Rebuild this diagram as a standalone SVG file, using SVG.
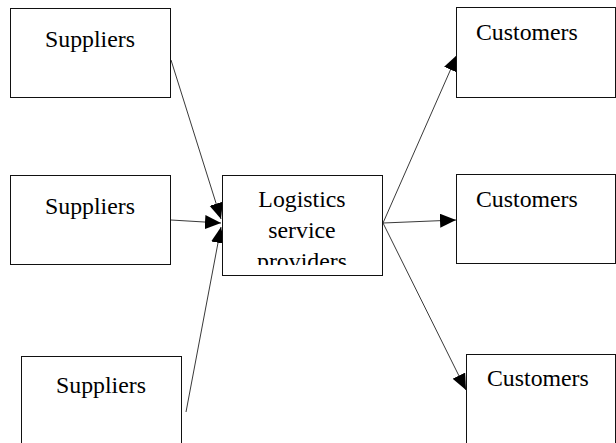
<svg xmlns="http://www.w3.org/2000/svg" width="616" height="443" viewBox="0 0 616 443">
<style>
.box{fill:#fff;stroke:#111;stroke-width:1}
.t{font-family:"Liberation Serif","Times New Roman",serif;font-size:23.8px;fill:#000}
.c{text-anchor:middle}
.ln{stroke:#222;stroke-width:0.9;fill:none}
</style>
<defs>
<marker id="ah" markerUnits="userSpaceOnUse" markerWidth="18" markerHeight="16" refX="16" refY="7" orient="auto">
<path d="M0,0 L16,7 L0,14 z" fill="#000"/>
</marker>
<clipPath id="lclip"><rect x="222" y="175" width="160" height="90"/></clipPath>
</defs>
<g id="connectors">
<line class="ln" x1="171" y1="60" x2="221" y2="219" marker-end="url(#ah)"/>
<line class="ln" x1="171" y1="220" x2="221" y2="223" marker-end="url(#ah)"/>
<line class="ln" x1="186" y1="412" x2="221" y2="227" marker-end="url(#ah)"/>
<line class="ln" x1="383" y1="223" x2="457" y2="55" marker-end="url(#ah)"/>
<line class="ln" x1="383" y1="223" x2="456" y2="220" marker-end="url(#ah)"/>
<line class="ln" x1="383" y1="223" x2="466" y2="390" marker-end="url(#ah)"/>
</g>
<g id="supplier1">
<rect class="box" x="10.5" y="8.5" width="160" height="89"/>
<text class="t c" x="90" y="47">Suppliers</text>
</g>
<g id="supplier2">
<rect class="box" x="10.5" y="175.5" width="160" height="89"/>
<text class="t c" x="90" y="214">Suppliers</text>
</g>
<g id="supplier3">
<rect class="box" x="21.5" y="356.5" width="160" height="100"/>
<text class="t c" x="101" y="393">Suppliers</text>
</g>
<g id="logistics">
<rect class="box" x="222.5" y="175.5" width="160" height="100"/>
<g clip-path="url(#lclip)">
<text class="t c" x="302" y="207">Logistics</text>
<text class="t c" x="302" y="238">service</text>
<text class="t c" x="302" y="269">providers</text>
</g>
</g>
<g id="customer1">
<rect class="box" x="456.5" y="7.5" width="159" height="90"/>
<text class="t" x="476" y="40">Customers</text>
</g>
<g id="customer2">
<rect class="box" x="456.5" y="174.5" width="159" height="89"/>
<text class="t" x="476" y="207">Customers</text>
</g>
<g id="customer3">
<rect class="box" x="466.5" y="354.5" width="149" height="100"/>
<text class="t" x="487" y="386">Customers</text>
</g>
</svg>
